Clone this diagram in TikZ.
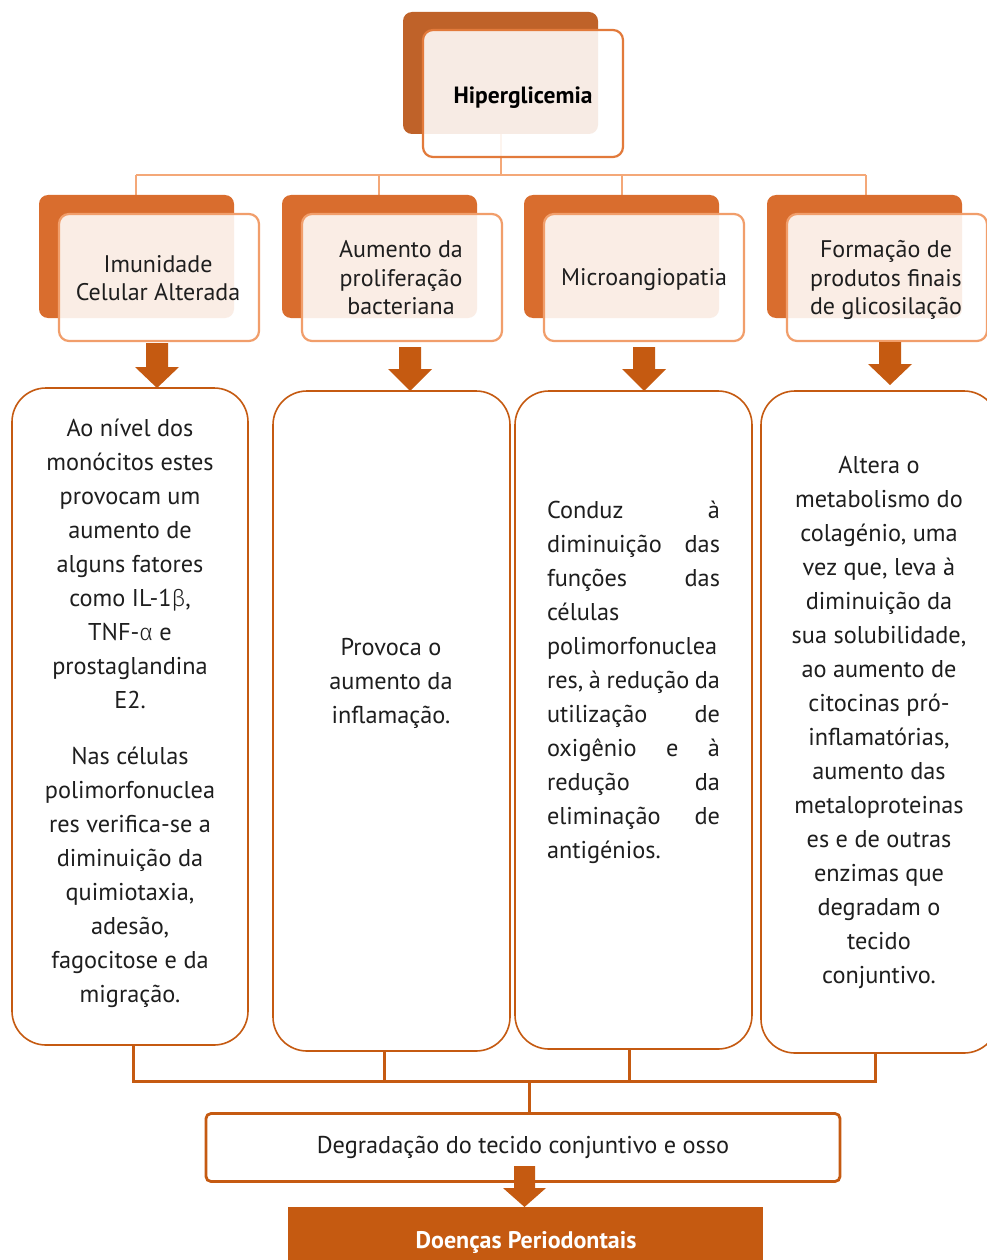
\documentclass[tikz,border=0pt]{standalone}
\usepackage{fontspec}
\setmainfont{PT Sans}
\newfontfamily\gk{Fira Sans Light}[Scale=0.95]
\usetikzlibrary{calc}
\definecolor{darkO}{HTML}{C55A11}
\definecolor{hipDark}{HTML}{BF6229}
\definecolor{lvDark}{HTML}{D96D2E}
\definecolor{lvBorder}{HTML}{F19E6B}
\definecolor{hipBorder}{HTML}{E27A3B}
\definecolor{topLine}{HTML}{F4A878}
\definecolor{txt}{HTML}{1E1E1E}
\tikzset{
  back/.style={fill=#1, draw=none, rounded corners=9pt},
  front/.style={fill=white, fill opacity=0.88, draw=#1, line width=2.2pt, rounded corners=10pt},
  bigbox/.style={draw=darkO, line width=1.6pt, fill=white, rounded corners=34pt},
  bodytxt/.style={text=txt, font=\fontsize{24.3}{34}\selectfont, align=center, inner sep=0pt},
  lvtxt/.style={text=txt, font=\fontsize{24}{28.5}\selectfont, align=center, inner sep=0pt},
  blockarrow/.style={fill=darkO, draw=none},
  busline/.style={draw=darkO, line width=3pt},
  topbus/.style={draw=topLine, line width=2.2pt},
}
\newcommand{\downarrowshape}[5]{% name, cx, ytop, yhead, ytip
  \fill[blockarrow] (#2-11,#3) -- (#2+11,#3) -- (#2+11,#4) -- (#2+22,#4) -- (#2,#5) -- (#2-22,#4) -- (#2-11,#4) -- cycle;
}
\begin{document}
\begin{tikzpicture}[x=1pt,y=-1pt]
\useasboundingbox (0,0) rectangle (987,1260);
\fill[white] (0,0) rectangle (987,1260);

% ---------- top: Hiperglicemia ----------
\coordinate (hipbot) at (501,134);
\coordinate (bus) at (501,175);
\draw[topbus] (hipbot) -- (bus);
\draw[topbus] (136,175) -- (866,175);
\foreach \x in {136,379,622,866} \draw[topbus] (\x,175) -- (\x,196);

\path[back=hipDark] (403,12) rectangle (598,134);
\path[front=hipBorder] (423,30) rectangle (623,157);
\node[text=black, font=\fontsize{23.5}{26}\selectfont\bfseries, inner sep=0pt] (hip) at (523,98) {Hiperglicemia};

% ---------- level 2 ----------
\foreach \i/\x in {0/39,1/282,2/524,3/767}{
  \path[back=lvDark] (\x,195) rectangle ++(195,123);
  \path[front=lvBorder] ($(\x,195)+(20,19)$) rectangle ++(200,127);
}
\node[lvtxt] (l1) at (158,278) {Imunidade\\Celular Alterada};
\node[lvtxt] (l2) at (401,278) {Aumento da\\proliferação\\bacteriana};
\node[lvtxt] (l3) at (644,280) {Microangiopatia};
\node[lvtxt] (l4) at (886,280) {Formação de\\produtos finais\\de glicosilação};

% ---------- arrows ----------
\downarrowshape{a1}{157}{343}{367}{388}
\downarrowshape{a2}{410}{347}{369}{391}
\downarrowshape{a3}{644}{347}{369}{391}
\downarrowshape{a4}{890}{342}{364}{385}

% ---------- big boxes ----------
\path[bigbox] (12,388) rectangle (248,1045);
\path[bigbox] (273,391) rectangle (510,1051);
\path[bigbox] (515,391) rectangle (752,1049);
\path[bigbox] (761,391) rectangle (998,1053);

\node[bodytxt] (tA) at (130,713.5) {Ao nível dos\\monócitos estes\\provocam um\\aumento de\\alguns fatores\\como IL-1{\gk β},\\TNF-{\gk α} e\\prostaglandina\\E2.\\[22pt]Nas células\\polimorfonuclea\\res verifica-se a\\diminuição da\\quimiotaxia,\\adesão,\\fagocitose e da\\migração.};
\node[bodytxt] (tB) at (391,683) {Provoca o\\aumento da\\inflamação.};
\node[bodytxt, align=left] (tC) at (633.5,682.5) {%
\makebox[173pt][s]{Conduz à}\\
\makebox[173pt][s]{diminuição das}\\
\makebox[173pt][s]{funções das}\\
células\\
polimorfonuclea\\
\makebox[173pt][s]{res, à redução da}\\
\makebox[173pt][s]{utilização de}\\
\makebox[173pt][s]{oxigênio e à}\\
\makebox[173pt][s]{redução da}\\
\makebox[173pt][s]{eliminação de}\\
antigénios.};
\node[bodytxt] (tD) at (879,722.5) {Altera o\\metabolismo do\\colagénio, uma\\vez que, leva à\\diminuição da\\sua solubilidade,\\ao aumento de\\citocinas pró-\\inflamatórias,\\aumento das\\metaloproteinas\\es e de outras\\enzimas que\\degradam o\\tecido\\conjuntivo.};

% ---------- bottom connectors ----------
\coordinate (dA) at (133,1045);
\coordinate (dB) at (384,1051);
\coordinate (dC) at (629,1049);
\coordinate (dD) at (875,1052);
\draw[busline] (dA) -- (133,1081) -- (875,1081) -- (dD);
\draw[busline] (dB) -- (384,1083);
\draw[busline] (dC) -- (629,1083);
\draw[busline] (529,1081) -- (529,1114);

\node[draw=darkO, line width=2.8pt, rounded corners=5pt, minimum width=634pt, minimum height=68pt, fill=white, inner sep=0pt, text=txt, font=\fontsize{24.3}{28}\selectfont] (deg) at (523,1147.5) {};
\node[text=txt, font=\fontsize{24.3}{28}\selectfont, inner sep=0pt] (degt) at (523,1147.5) {Degradação do tecido conjuntivo e osso};

\fill[blockarrow] (514,1166) -- (535,1166) -- (535,1188) -- (546,1188) -- (524.5,1207) -- (503,1188) -- (514,1188) -- cycle;

\node[fill=darkO, minimum width=475pt, minimum height=60pt, inner sep=0pt, anchor=north west] (doe) at (288,1207) {};
\node[text=white, font=\fontsize{24}{28}\selectfont\bfseries, inner sep=0pt] (doet) at (526,1242) {Doenças Periodontais};
\end{tikzpicture}
\end{document}
